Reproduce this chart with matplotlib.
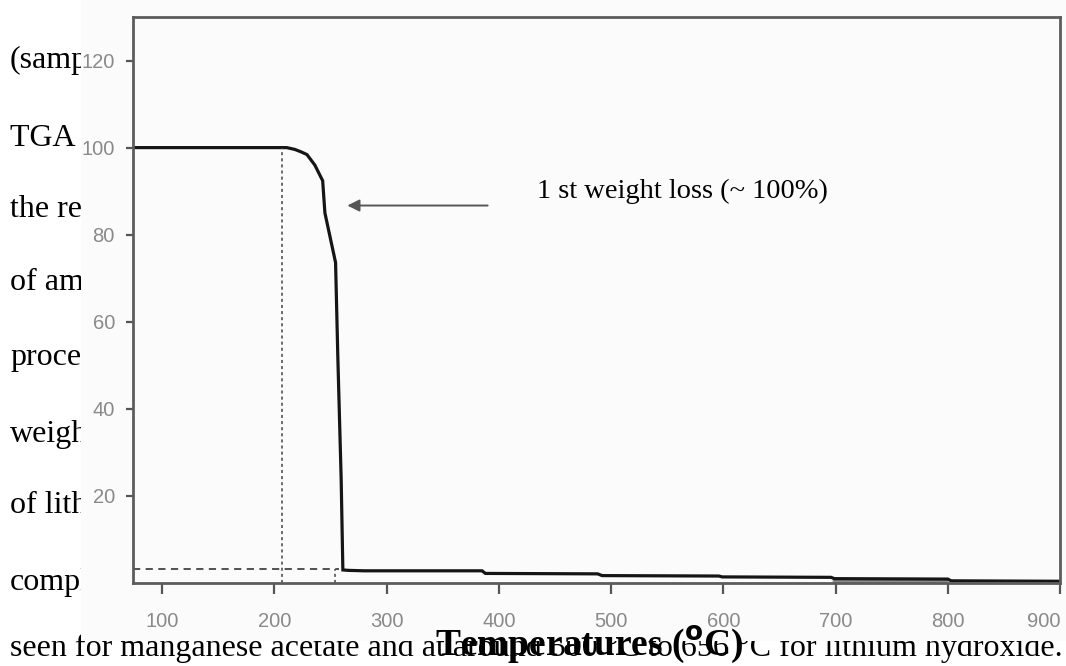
import matplotlib
matplotlib.use("Agg")
import matplotlib.pyplot as plt
from matplotlib.patches import Rectangle

# TGA trace: temperature (deg C) vs residual weight (%)
temp = [74, 207, 211, 218, 224, 229, 236, 243, 245, 250, 254.5,
        256.5, 259.5, 261, 266, 280, 385, 388, 488, 492, 596, 599,
        696, 699, 800, 803, 900]
weight = [100, 100, 100, 99.6, 99.0, 98.4, 96.0, 92.4, 85.0, 79.0, 73.6,
          52.0, 23.7, 3.0, 2.9, 2.8, 2.8, 2.2, 2.1, 1.7, 1.6, 1.4,
          1.3, 1.0, 0.9, 0.5, 0.4]

# grey underlay between 700 and 800 degC
band_temp = [697, 800]
band_low = [0.0, 0.0]
band_high = [1.0, 0.9]

onset_temp = 207
end_temp = 254
residue = 3.2
arrow_y = 86.7
arrow_from, arrow_to = 390, 265

x_ticks = [100, 200, 300, 400, 500, 600, 700, 800, 900]
y_ticks = [20, 40, 60, 80, 100, 120]

side_words = ["(sample", "TGA of", "the results", "of ammonium", "process",
              "weight", "of lithium", "complete"]
side_baselines = [68, 146, 217, 290, 365, 442, 513, 590]
bottom_line = ("seen for manganese acetate and at around 500 \u00b0C to 656 \u00b0C "
               "for lithium hydroxide.")

W, H = 1066, 666
fig = plt.figure(figsize=(W / 100, H / 100), dpi=100)
fig.patch.set_facecolor("white")

serif = ["Liberation Serif", "DejaVu Serif"]

def fy(py):
    return 1 - py / H

# running text of the page behind the figure
for word, yb in zip(side_words, side_baselines):
    fig.text(10 / W, fy(yb), word, family=serif, fontsize=23, color="black",
             va="baseline", ha="left", zorder=1)
fig.text(10 / W, fy(656), bottom_line, family=serif, fontsize=23,
         color="black", va="baseline", ha="left", zorder=1)

# the pasted figure area covering the text
fig.add_artist(Rectangle((81 / W, fy(641)), 1 - 81 / W, 641 / H,
                         transform=fig.transFigure, facecolor="#fbfbfb",
                         edgecolor="none", zorder=2))

ax = fig.add_axes([133 / W, 1 - 583 / H, 927 / W, 566 / H], zorder=5)
ax.set_facecolor("none")

ax.fill_between(band_temp, band_low, band_high, color="#8c8c8c", lw=0)
ax.plot(temp, weight, color="#151515", lw=2.3, solid_joinstyle="miter")

ax.plot([onset_temp, onset_temp], [0, 100], ls=(0, (2, 2)), color="#444",
        lw=1.1)
ax.plot([end_temp, end_temp], [0, residue], ls=(0, (2, 2)), color="#444",
        lw=1.1)
ax.plot([74, 258], [residue, residue], ls=(0, (4, 3)), color="#444", lw=1.3)

ax.annotate("", xy=(arrow_to, arrow_y), xytext=(arrow_from, arrow_y),
            arrowprops=dict(arrowstyle="-|>", color="#555", lw=1.4,
                            mutation_scale=18, shrinkA=0, shrinkB=0))
ax.text(434, 90.0, "1 st weight loss (~ 100%)", family=serif, fontsize=20.5,
        color="black", va="center", ha="left")

ax.set_xlim(74, 900)
ax.set_ylim(0, 130)
ax.set_xticks(x_ticks)
ax.set_yticks(y_ticks)
for s in ax.spines.values():
    s.set_color("#5c5c5c")
    s.set_linewidth(2.0)
ax.tick_params(axis="x", direction="out", length=8, width=1.6, color="#555",
               pad=13, labelsize=14.5, labelcolor="#8a8a8a")
ax.tick_params(axis="y", direction="out", length=5, width=1.6, color="#555",
               pad=8, labelsize=14.5, labelcolor="#8a8a8a")
for lab in ax.get_xticklabels() + ax.get_yticklabels():
    lab.set_family(["Liberation Sans", "DejaVu Sans"])
ax.get_xticklabels()[-1].set_horizontalalignment("right")

fig.text(589 / W, fy(655), r"Temperatures ($^{\mathbf{o}}$C)", family=serif,
         fontsize=27, fontweight="bold", color="black", ha="center",
         va="baseline", zorder=6)

fig.savefig("out.png", dpi=100)
